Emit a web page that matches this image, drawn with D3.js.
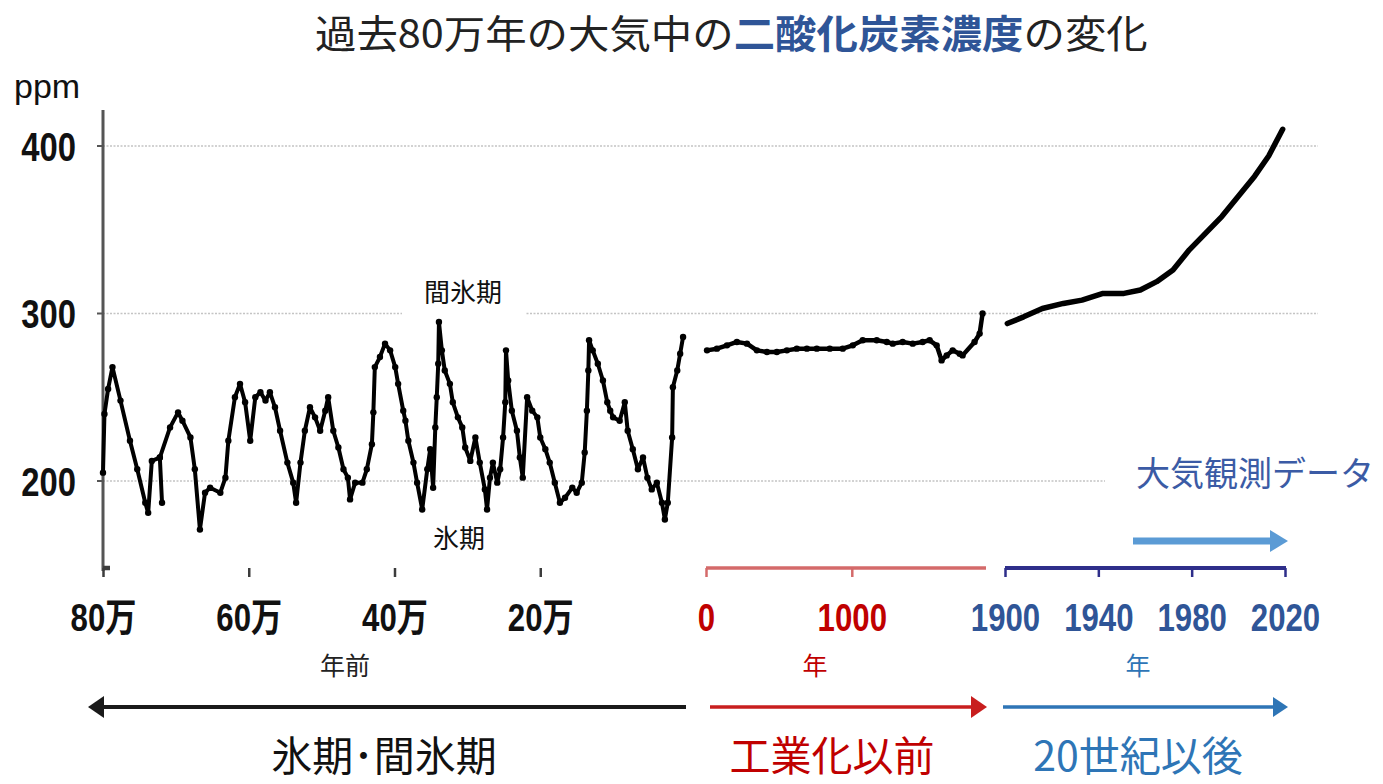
<!DOCTYPE html>
<html>
<head>
<meta charset="utf-8">
<script src="https://cdn.jsdelivr.net/npm/d3@7"></script>
<style>
  body { margin: 0; background: #fff; }
  svg { display: block; }
</style>
</head>
<body>
<script>
'use strict';

// ice core data: [thousand years before present, ppm]
let iceAge = [800, 798, 793, 787, 776, 763, 753, 742, 738, 733, 722, 719, 722, 708, 697, 691, 680, 674, 667,
  660, 653, 639, 632, 628, 619, 612, 605, 598, 591, 584, 577, 571, 564, 557, 547, 539, 535, 529, 523, 516,
  509, 502, 495, 491, 484, 477, 470, 464, 461, 454, 444, 438, 431, 429, 427, 420, 413, 406, 399, 395, 388,
  385, 381, 374, 369, 362, 355, 351, 347, 344, 342, 340, 339, 335, 331, 324, 320, 313, 307, 303, 296, 289,
  283, 276, 273, 269, 265, 259, 255, 251, 248, 247, 244, 239, 232, 228, 224, 218, 211, 204, 200, 193, 187,
  180, 173, 166, 156, 150, 143, 139, 136, 134, 133, 128, 121, 114, 108, 104, 100, 91, 84, 80, 73, 66, 59,
  53, 47, 40, 33, 29, 25, 19, 18, 12, 8, 4];
let icePpm = [205, 240, 255, 268, 248, 224, 207, 187, 181, 212, 214, 187, 214, 232, 241, 236, 226, 207, 171,
  193, 196, 193, 202, 224, 250, 258, 247, 224, 250, 253, 248, 253, 244, 230, 211, 199, 187, 211, 230, 244,
  238, 230, 242, 250, 230, 220, 207, 202, 189, 199, 199, 207, 222, 241, 268, 274, 282, 278, 268, 258, 242,
  236, 224, 211, 199, 183, 207, 219, 196, 232, 250, 270, 295, 278, 266, 258, 247, 238, 232, 220, 212, 226,
  211, 195, 183, 202, 211, 199, 207, 226, 247, 278, 260, 242, 230, 214, 202, 250, 242, 238, 226, 219, 211,
  199, 187, 190, 196, 193, 199, 217, 242, 266, 284, 278, 270, 260, 247, 242, 238, 236, 247, 230, 219, 207,
  214, 202, 195, 199, 187, 177, 187, 226, 256, 266, 276, 286];

// pre-industrial: [year, ppm]
let preYear = [7, 75, 144, 212, 281, 349, 418, 486, 555, 623, 692, 760, 849, 938, 1007, 1075, 1171, 1240,
  1281, 1349, 1418, 1486, 1534, 1582, 1616, 1651, 1692, 1740, 1760, 1842, 1877, 1897];
let prePpm = [278, 279, 281, 283, 282, 278, 277, 277, 278, 279, 279, 279, 279, 279, 281, 284, 284, 283,
  282, 283, 282, 283, 284, 281, 272, 275, 278, 276, 275, 283, 288, 300];

// 20th century onwards: [year, ppm]
let modYear = [1901, 1908, 1916, 1925, 1933, 1942, 1951, 1958, 1965, 1972, 1979, 1986, 1993, 2000, 2007, 2013, 2019];
let modPpm = [294, 298, 303, 306, 308, 312, 312, 314, 319, 326, 338, 348, 358, 370, 382, 394, 410];

// tick labels
let yTicks = [200, 300, 400];
let iceTicks = [800, 600, 400, 200];
let preTicks = [0, 1000];
let modTicks = [1900, 1940, 1980, 2020];

(function() {
  let svg = "";
  const numFont = "'Liberation Sans', Arial, sans-serif";
  const jpFont = "'Noto Sans CJK JP', 'Noto Sans', sans-serif";
  const narrow = 0.8; // squeeze digits like a narrow face

  window.onload = function() {
    svg = d3.select('body')
      .append('svg')
      .attr('width', 1383)
      .attr('height', 784);

    // shared ppm scale
    let yScale = d3.scaleLinear().domain([200, 400]).range([481, 146]);

    // one x scale per panel
    let xIce = d3.scaleLinear().domain([800, 0]).range([103, 686]);
    let xPre = d3.scaleLinear().domain([0, 1900]).range([706, 983]);
    let xMod = d3.scaleLinear().domain([1900, 2020]).range([1005, 1285]);

    drawGrid(yScale);
    drawLabels();
    drawYAxis(yScale);

    // ice core series
    let iceData = iceAge.map((a, i) => ({x: a, y: icePpm[i]}));
    plotSeries(iceData, xIce, yScale, 4, 3.2);

    let preData = preYear.map((a, i) => ({x: a, y: prePpm[i]}));
    plotSeries(preData, xPre, yScale, 4.5, 3.2);

    let modData = modYear.map((a, i) => ({x: a, y: modPpm[i]}));
    plotSeries(modData, xMod, yScale, 5.5, 0);

    // x axes
    drawXAxis(xIce, iceTicks, d => (d / 10) + '万', '#3c3c3c', '#111', 4.5, 110);
    drawXAxis(xPre, preTicks, d => d, '#d46a6a', '#c00000', 3.5, 986);
    drawXAxis(xMod, modTicks, d => d, '#2e2e8a', '#2f5597', 4, 1286);

    drawArrows(xIce, xPre, xMod);
  };

  // dotted gridlines, with white boxes behind in-plot labels
  function drawGrid(yScale) {
    svg.append('g')
      .selectAll('line')
      .data(yTicks)
      .enter()
      .append('line')
        .attr('x1', 103)
        .attr('x2', 1318)
        .attr('y1', d => yScale(d))
        .attr('y2', d => yScale(d))
        .attr('stroke', '#c4c4c4')
        .attr('stroke-width', 1.5)
        .attr('stroke-dasharray', '2,1.5');

    svg.append('rect').attr('x', 402).attr('y', 270).attr('width', 123).attr('height', 52).attr('fill', '#fff');
    svg.append('rect').attr('x', 1105).attr('y', 440).attr('width', 278).attr('height', 60).attr('fill', '#fff');
  }

  function drawYAxis(yScale) {
    svg.append('line')
      .attr('x1', 103).attr('x2', 103)
      .attr('y1', 110).attr('y2', 571)
      .attr('stroke', '#555')
      .attr('stroke-width', 3);

    let g = svg.append('g');
    g.selectAll('line')
      .data(yTicks)
      .enter()
      .append('line')
        .attr('x1', 97).attr('x2', 103)
        .attr('y1', d => yScale(d)).attr('y2', d => yScale(d))
        .attr('stroke', '#555')
        .attr('stroke-width', 2);

    g.selectAll('text')
      .data(yTicks)
      .enter()
      .append('text')
        .attr('x', 76)
        .attr('y', d => yScale(d) + 15)
        .attr('text-anchor', 'end')
        .attr('transform', `translate(76,0) scale(${narrow},1) translate(-76,0)`)
        .style('font-family', numFont)
        .style('font-weight', 'bold')
        .style('font-size', '41px')
        .attr('fill', '#111')
        .text(d => d);

    svg.append('text')
      .attr('x', 14)
      .attr('y', 98)
      .style('font-family', numFont)
      .style('font-size', '34px')
      .attr('fill', '#111')
      .text('ppm');
  }

  function plotSeries(data, xScale, yScale, width, dotR) {
    let line = d3.line()
      .x(d => xScale(d.x))
      .y(d => yScale(d.y));

    svg.append('path')
      .datum(data)
      .attr('d', line)
      .attr('fill', 'none')
      .attr('stroke', '#000')
      .attr('stroke-width', width)
      .attr('stroke-linejoin', 'round')
      .attr('stroke-linecap', 'round');

    if (dotR > 0) {
      svg.append('g')
        .selectAll('circle')
        .data(data)
        .enter()
        .append('circle')
          .attr('cx', d => xScale(d.x))
          .attr('cy', d => yScale(d.y))
          .attr('r', dotR)
          .attr('fill', '#000');
    }
  }

  function drawXAxis(xScale, ticks, fmt, lineColor, textColor, lineWidth, endX) {
    let axis = d3.axisBottom(xScale)
      .tickValues(ticks)
      .tickFormat(fmt)
      .tickSize(9)
      .tickSizeOuter(0)
      .tickPadding(26);

    let g = svg.append('g')
      .attr('transform', 'translate(0, 568)')
      .call(axis);

    g.select('.domain').remove();
    let r = xScale.range();
    g.append('line')
      .attr('x1', r[0]).attr('x2', endX)
      .attr('stroke', lineColor)
      .attr('stroke-width', lineWidth);

    g.selectAll('.tick line')
      .attr('stroke', lineColor)
      .attr('stroke-width', 2.5);

    g.selectAll('.tick text')
      .attr('fill', textColor)
      .attr('transform', `scale(${narrow},1)`)
      .style('font-family', numFont + ", 'Noto Sans CJK JP'")
      .style('font-weight', 'bold')
      .style('font-size', '39px');
  }

  // arrow with a triangular head pointing at x2
  function arrow(x1, x2, y, color, w, hw, hh) {
    let tip = x2;
    let base = x2 - hw * Math.sign(x2 - x1);
    svg.append('line')
      .attr('x1', x1).attr('x2', base)
      .attr('y1', y).attr('y2', y)
      .attr('stroke', color)
      .attr('stroke-width', w);
    svg.append('path')
      .attr('d', `M${tip},${y} L${base},${y - hh / 2} L${base},${y + hh / 2} Z`)
      .attr('fill', color);
  }

  function drawArrows(xIce, xPre, xMod) {
    arrow(xIce.range()[1], 88, 707, '#1a1a1a', 4, 16, 22);
    arrow(xPre.range()[0] + 4, 987, 707, '#c81e1e', 3.5, 16, 22);
    arrow(xMod.range()[0] - 2, 1288, 707, '#2e75b6', 3.5, 15, 20);
    arrow(1133, 1288, 541, '#5b9bd5', 7, 18, 22);
  }

  // stretch a text element horizontally to a measured width
  function fitWidth(sel, x0, w) {
    let bb = sel.node().getBBox();
    let s = w / bb.width;
    sel.attr('transform', `translate(${x0},0) scale(${s},1) translate(${-bb.x},0)`);
  }

  function addText(x, y, size, color, str, weight) {
    return svg.append('text')
      .attr('x', x)
      .attr('y', y)
      .attr('text-anchor', 'middle')
      .style('font-family', jpFont)
      .style('font-size', size + 'px')
      .style('font-weight', weight || 'normal')
      .attr('fill', color)
      .text(str);
  }

  function drawLabels() {
    // title
    let title = svg.append('text')
      .attr('x', 315)
      .attr('y', 48)
      .style('font-family', jpFont)
      .style('font-size', '39px')
      .attr('fill', '#222');
    title.append('tspan').text('過去80万年の大気中の');
    title.append('tspan').attr('fill', '#2f5597').style('font-weight', 'bold').text('二酸化炭素濃度');
    title.append('tspan').text('の変化');
    fitWidth(title, 315, 833);

    addText(463, 302, 26, '#111', '間氷期');
    addText(459, 548, 26, '#111', '氷期');
    addText(1255, 486, 34, '#3b5ba5', '大気観測データ');

    addText(345, 675, 25, '#222', '年前');
    addText(815, 675, 25, '#c00000', '年');
    addText(1138, 675, 25, '#2e75b6', '年');

    addText(384, 771, 41, '#111', '氷期･間氷期');
    addText(832, 771, 41, '#c00000', '工業化以前');
    addText(1138, 771, 41, '#2e75b6', '20世紀以後');
  }

})();
</script>
</body>
</html>
